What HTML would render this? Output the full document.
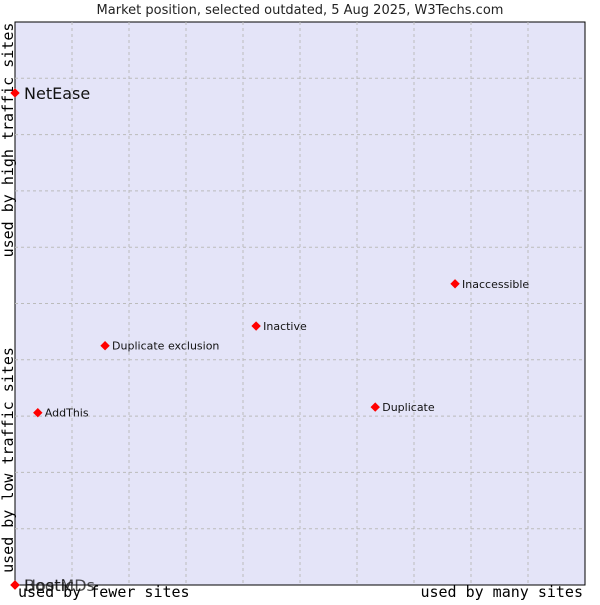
<!DOCTYPE html>
<html><head><meta charset="utf-8"><style>
body{margin:0;background:#fff;width:600px;height:600px;overflow:hidden}
svg{font-family:"DejaVu Sans","Liberation Sans",sans-serif}
</style></head><body>
<svg width="600" height="600">
<text x="300" y="14" text-anchor="middle" font-size="13" fill="#222">Market position, selected outdated, 5 Aug 2025, W3Techs.com</text>
<rect x="15" y="22" width="570" height="563" fill="#e4e4f8" stroke="#000"/>
<g id="grid"></g>
<text transform="translate(13,140) rotate(-90)" text-anchor="middle" font-family="DejaVu Sans Mono,monospace" font-size="15">used by high traffic sites</text>
<text transform="translate(13,460) rotate(-90)" text-anchor="middle" font-family="DejaVu Sans Mono,monospace" font-size="15">used by low traffic sites</text>
<text x="18" y="597" font-family="DejaVu Sans Mono,monospace" font-size="15">used by fewer sites</text>
<text x="583" y="597" text-anchor="end" font-family="DejaVu Sans Mono,monospace" font-size="15">used by many sites</text>
<g id="points"></g>
</svg>
<script>
const names=["NetEase","AddThis","Duplicate exclusion","Inactive","Duplicate","Inaccessible","Bootic","HostMDs"];
const xs=[0,4,15.8,42.3,63.2,77.2,0,0];
const ys=[87.4,30.6,42.5,46.0,31.6,53.5,0,0];
const big=[1,0,0,0,0,0,1,1];
const L=15,T=22,W=570,H=563;
const sx=v=>L+v/100*W, sy=v=>T+H-v/100*H;
const ns="http://www.w3.org/2000/svg";
const g=document.getElementById('grid');
for(let i=1;i<10;i++){
 const a=document.createElementNS(ns,'line');
 
 
 a.setAttribute('x1',sx(i*10));a.setAttribute('x2',sx(i*10));a.setAttribute('y1',T);a.setAttribute('y2',T+H);
 a.setAttribute('stroke','#bbb');a.setAttribute('stroke-dasharray','3,3');g.appendChild(a);
 const b=document.createElementNS(ns,'line');
 
 
 b.setAttribute('y1',sy(i*10));b.setAttribute('y2',sy(i*10));b.setAttribute('x1',L);b.setAttribute('x2',L+W);
 b.setAttribute('stroke','#bbb');b.setAttribute('stroke-dasharray','3,3');g.appendChild(b);
}
const p=document.getElementById('points');
names.forEach((n,i)=>{
 const x=sx(xs[i]),y=sy(ys[i]);
 const c=document.createElementNS(ns,'path');
 
 
 c.setAttribute('d',`M${x-4},${y}L${x},${y-4}L${x+4},${y}L${x},${y+4}Z`);
 c.setAttribute('fill','red');c.setAttribute('stroke','red');p.appendChild(c);
 const t=document.createElementNS(ns,'text');
 
 
 t.setAttribute('x',x+(big[i]?9:7));t.setAttribute('y',y+(big[i]?6:4));
 t.setAttribute('font-size',big[i]?16:11);
 t.setAttribute('fill','#111');
 if(big[i]&&ys[i]===0)t.setAttribute('fill-opacity','0.75');
 t.textContent=n;p.appendChild(t);
});
</script>
</body></html>
